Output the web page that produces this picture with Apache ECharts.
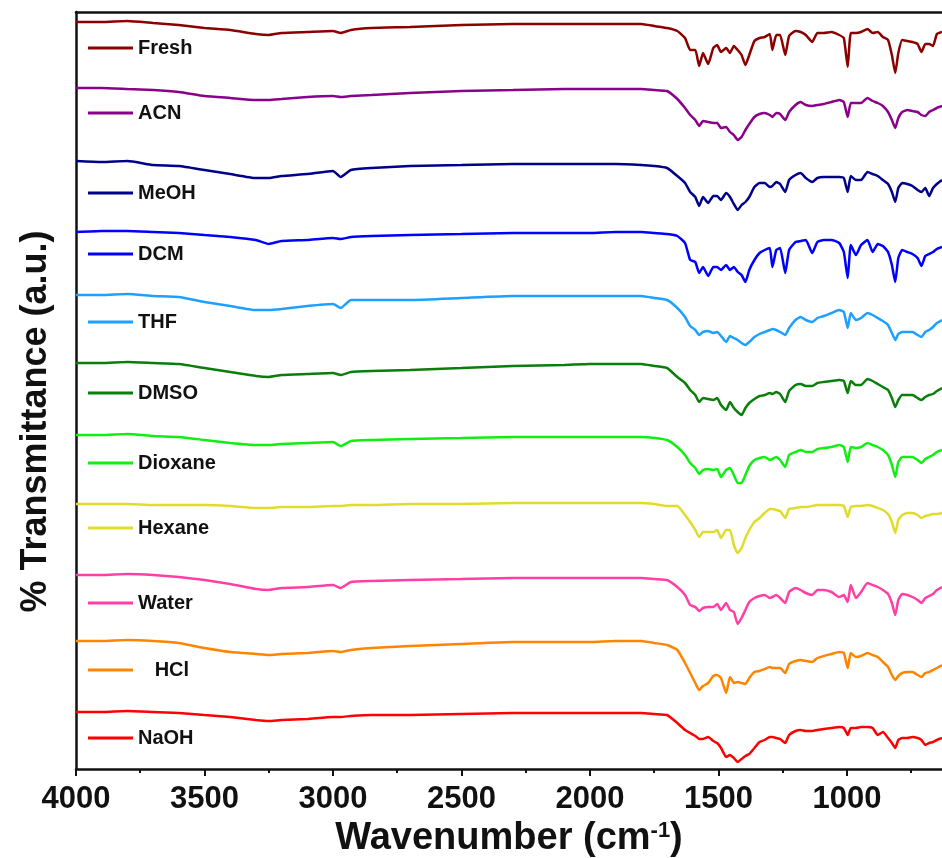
<!DOCTYPE html>
<html>
<head>
<meta charset="utf-8">
<script src="https://cdn.jsdelivr.net/npm/echarts@6/dist/echarts.min.js"></script>
<style>
html,body{margin:0;padding:0;background:#fff;}
#chart{width:942px;height:858px;}
</style>
</head>
<body>
<div id="chart"></div>
<script>
// Wavenumber grid (cm-1)
const wavenumbers = [4000,3900,3800,3700,3600,3500,3400,3300,3250,3200,3100,3000,2970,2930,2850,2700,2500,2300,2100,2000,1900,1800,1750,1700,
  1660,1630,1610,1590,1575,1560,1540,1520,1505,1490,1470,1455,1440,1425,1410,1395,1380,1360,1340,1320,1300,1290,1275,1260,1240,1225,
  1200,1180,1160,1135,1115,1090,1060,1030,1012,997,985,965,945,920,900,880,860,840,825,812,800,785,765,745,725,710,695,680,665,650,630];

// Stacked transmittance (a.u.)
const fresh = [74.7,74.7,74.8,74.6,74.4,74.1,73.9,73.5,73.4,73.6,73.7,73.8,73.6,73.9,74.1,74.2,74.4,74.5,74.5,74.5,74.5,74.5,74.3,74.1,
  73.8,73.1,71.9,71.9,70.3,71.6,70.5,72.1,72.4,71.7,72.1,71.6,72.3,71.9,71.4,70.4,71.4,72.8,73.1,73.2,
  73.5,71.9,73.4,73.4,71.4,73.3,73.8,73.7,73.4,72.7,73.6,73.6,73.7,73.4,73.1,70.2,73.6,73.6,73.7,74.0,
  73.6,73.7,73.2,72.9,71.4,69.6,71.6,72.9,72.8,72.7,72.5,71.7,72.5,72.5,72.3,73.5,73.7];
const acn = [68.1,68.1,68.0,67.9,67.7,67.3,67.1,66.9,66.9,67.0,67.2,67.3,67.2,67.3,67.4,67.6,67.8,67.9,68.0,68.0,68.0,68.0,67.9,67.8,
  67.0,66.1,65.4,64.9,64.3,64.8,64.7,64.6,64.6,64.1,64.2,63.7,63.4,62.9,63.2,63.9,64.5,65.2,65.5,65.6,
  65.4,65.2,65.6,65.5,64.9,65.7,66.4,66.7,66.4,66.3,66.4,66.5,66.7,66.9,66.7,65.2,66.6,66.6,66.6,67.1,
  66.8,66.6,66.3,65.7,64.9,64.1,65.1,65.7,65.9,65.8,65.7,65.4,65.3,65.7,65.9,66.1,66.3];
const meoh = [60.8,60.7,60.8,60.4,60.3,59.9,59.5,59.1,59.1,59.3,59.5,59.8,59.2,59.9,60.1,60.3,60.4,60.5,60.5,60.5,60.5,60.4,60.3,60.1,
  59.3,58.6,57.7,57.2,56.3,57.2,56.6,57.3,57.3,56.9,57.6,57.2,56.5,55.9,56.4,56.7,57.2,58.2,58.6,58.6,
  58.2,58.3,58.7,58.5,57.7,58.9,59.4,59.6,59.1,58.7,59.1,59.2,59.2,59.2,59.1,57.7,59.3,58.9,58.9,59.7,
  59.5,59.3,58.9,58.5,57.7,56.7,58.1,58.6,58.5,58.3,57.9,57.7,58.1,57.3,58.1,58.5,58.9];
const dcm = [53.7,53.8,53.8,53.7,53.6,53.4,53.2,52.9,52.5,52.8,52.9,53.1,53.0,53.2,53.3,53.4,53.5,53.6,53.6,53.6,53.7,53.7,53.6,53.5,
  53.3,52.6,50.9,50.7,49.6,50.2,49.3,50.2,50.2,49.9,50.4,49.9,50.2,49.7,49.4,48.7,49.9,50.9,51.6,51.9,
  52.1,50.2,51.9,52.1,49.6,51.9,52.7,52.8,52.9,51.6,52.7,52.9,52.9,52.6,51.7,49.1,52.4,51.4,52.4,52.9,
  51.7,52.5,52.3,51.7,50.4,48.7,51.1,51.9,51.7,51.5,51.1,50.3,51.3,51.5,51.7,52.0,52.2];
const thf = [47.4,47.4,47.5,47.3,47.2,46.7,46.3,45.9,45.9,46.0,46.3,46.5,46.1,46.9,46.9,46.9,47.1,47.3,47.3,47.3,47.3,47.3,47.1,46.9,
  46.1,45.2,44.3,43.9,43.4,43.7,43.8,43.6,43.7,43.3,42.7,43.3,43.1,42.9,42.6,42.4,42.7,43.2,43.5,43.7,
  43.9,44.0,43.9,43.7,43.4,44.1,44.9,45.2,44.9,44.7,45.1,45.3,45.6,45.9,45.7,44.1,45.6,44.9,45.1,45.6,
  45.4,45.1,44.8,44.4,43.6,42.9,43.5,43.7,43.7,43.7,43.4,43.2,43.7,43.9,44.2,44.6,44.9];
const dmso = [40.6,40.6,40.7,40.6,40.5,40.1,39.7,39.3,39.2,39.4,39.5,39.6,39.4,39.7,39.8,39.9,40.1,40.3,40.4,40.5,40.5,40.5,40.3,40.1,
  39.2,38.6,37.9,37.4,36.7,37.1,37.0,36.9,37.1,36.4,35.9,36.7,36.1,35.7,35.4,36.1,36.6,37.0,37.3,37.4,
  37.6,37.5,37.7,37.5,36.7,37.8,38.4,38.5,38.3,38.3,38.6,38.7,38.8,38.9,38.8,37.6,38.8,38.4,38.4,39.0,
  38.8,38.5,38.2,37.9,37.1,36.2,36.9,37.4,37.4,37.4,37.1,36.9,37.2,37.4,37.5,37.8,38.1];
const dioxane = [33.4,33.4,33.5,33.3,33.2,32.9,32.6,32.4,32.4,32.5,32.6,32.7,32.3,32.8,32.9,33.0,33.1,33.2,33.2,33.2,33.2,33.2,33.1,32.9,
  32.2,31.4,30.6,30.1,29.5,29.9,30.0,29.9,30.0,29.2,29.9,30.1,29.4,28.6,28.6,29.4,30.3,30.9,31.1,31.2,
  30.9,31.0,31.2,30.9,30.2,31.4,31.7,31.9,31.7,31.7,32.0,32.1,32.2,32.4,32.2,30.7,32.2,32.1,32.2,32.6,
  32.4,32.2,31.9,31.4,30.4,29.2,30.7,31.2,31.2,31.2,30.9,30.6,31.0,31.2,31.4,31.7,31.9];
const hexane = [26.5,26.5,26.5,26.4,26.4,26.4,26.3,26.1,26.1,26.2,26.2,26.3,26.3,26.4,26.4,26.5,26.5,26.6,26.6,26.6,26.6,26.6,26.5,26.3,
  26.3,25.4,24.7,23.9,23.2,23.7,23.7,23.7,23.9,23.1,23.9,23.9,22.4,21.6,22.1,23.1,23.9,24.7,25.1,25.6,
  26.0,26.0,25.9,25.8,25.1,26.0,26.1,26.2,26.2,26.3,26.4,26.4,26.4,26.4,26.3,25.2,26.2,26.3,26.3,26.4,
  26.3,26.1,25.9,25.5,24.7,23.6,24.9,25.4,25.6,25.6,25.4,25.1,25.3,25.4,25.5,25.5,25.6];
const water = [19.4,19.4,19.5,19.4,19.2,18.9,18.5,18.0,17.9,18.1,18.2,18.4,18.1,18.7,18.8,18.9,19.0,19.1,19.1,19.1,19.1,19.1,19.0,18.9,
  18.2,17.4,16.4,16.2,15.8,16.1,16.2,16.2,16.5,15.9,16.6,15.9,15.7,14.5,15.1,15.9,16.7,17.1,17.3,17.4,
  17.1,17.2,17.4,17.1,16.6,17.7,18.1,17.9,17.6,17.4,17.9,17.9,17.7,17.2,17.4,16.7,18.4,17.1,17.7,18.6,
  18.4,18.2,17.9,17.5,16.6,15.4,16.9,17.5,17.4,17.2,16.9,16.6,17.1,17.3,17.5,17.9,18.2];
const hcl = [12.8,12.8,12.9,12.8,12.6,12.1,11.7,11.5,11.4,11.5,11.6,11.8,11.7,11.9,12.1,12.3,12.5,12.7,12.7,12.7,12.8,12.8,12.6,12.4,
  11.9,10.6,9.6,8.6,7.9,8.3,8.6,9.3,9.4,9.1,7.6,9.2,8.6,8.7,8.6,8.5,9.1,9.7,9.8,10.0,
  10.2,10.1,10.1,10.1,9.6,10.5,10.8,10.9,10.8,10.7,11.1,11.3,11.5,11.7,11.6,10.1,11.6,11.2,11.3,11.6,
  11.4,11.2,10.7,10.2,9.4,8.9,9.3,9.6,9.7,9.7,9.4,9.2,9.6,9.7,9.9,10.1,10.4];
const naoh = [5.7,5.7,5.8,5.7,5.6,5.4,5.2,4.9,4.8,4.9,5.0,5.2,5.2,5.3,5.4,5.4,5.5,5.6,5.6,5.6,5.6,5.6,5.5,5.4,
  4.6,3.9,3.6,3.3,3.0,3.0,3.2,2.8,2.6,2.1,1.2,1.4,1.1,0.7,1.0,1.3,1.5,2.1,2.7,2.9,
  3.2,3.2,3.1,3.0,2.6,3.4,3.8,3.9,3.8,3.8,3.9,4.0,4.1,4.2,4.1,3.4,4.1,4.1,4.2,4.2,
  4.1,3.4,3.7,3.1,2.6,2.1,2.9,3.1,3.1,3.2,3.1,2.9,2.4,2.6,2.7,2.9,3.1];

const seriesNames = ['Fresh','ACN','MeOH','DCM','THF','DMSO','Dioxane','Hexane','Water','HCl','NaOH'];
const seriesValues = [fresh, acn, meoh, dcm, thf, dmso, dioxane, hexane, water, hcl, naoh];
const seriesColors = ['#8b0000','#8b008b','#00008b','#0000ff','#1ea0ff','#0a7d0a','#11ee11','#e0dc2c','#ff3fa4','#ff8400','#ff0000'];
const xTickLabels = [4000,3500,3000,2500,2000,1500,1000];
const xMinorTicks = [3750,3250,2750,2250,1750,1250,750];

// legend layout (vertical positions of each legend entry)
const legendTops = [48,113,193,254,322,393,463,528,603,670,738];

const FONT = "'Liberation Sans', Arial, sans-serif";
const chart = echarts.init(document.getElementById('chart'), null, {renderer: 'canvas'});

const xCommon = {type: 'value', inverse: true, min: 630, max: 4000, gridIndex: 0, splitLine: {show: false}};

const option = {
  backgroundColor: '#fff',
  animation: false,
  grid: {left: 76, right: 0, top: 12, bottom: 89, containLabel: false, outerBoundsMode: 'none'},
  xAxis: [
    Object.assign({}, xCommon, {
      position: 'bottom',
      name: 'Wavenumber (cm{sup|-1})',
      nameLocation: 'middle',
      nameGap: 50,
      nameTextStyle: {fontFamily: FONT, fontWeight: 'bold', fontSize: 38, color: '#111',
        rich: {sup: {fontFamily: FONT, fontWeight: 'bold', fontSize: 22, color: '#111', verticalAlign: 'top', padding: [0, 0, 16, 0]}}},
      axisLine: {show: true, onZero: false, lineStyle: {color: '#111', width: 2.5}},
      axisTick: {show: true, customValues: xTickLabels, length: 7, lineStyle: {color: '#111', width: 2}},
      axisLabel: {show: true, customValues: xTickLabels, margin: 15, formatter: (v) => String(v),
        fontFamily: FONT, fontWeight: 'bold', fontSize: 31, color: '#111'}
    }),
    Object.assign({}, xCommon, {
      position: 'bottom',
      axisLine: {show: false},
      axisTick: {show: true, customValues: xMinorTicks, length: 4, lineStyle: {color: '#111', width: 2}},
      axisLabel: {show: false}
    }),
    Object.assign({}, xCommon, {
      position: 'top',
      axisLine: {show: true, onZero: false, lineStyle: {color: '#111', width: 2.5}},
      axisTick: {show: false},
      axisLabel: {show: false}
    })
  ],
  yAxis: {
    type: 'value', min: 0, max: 75.7,
    name: '% Transmittance (a.u.)',
    nameLocation: 'middle',
    nameRotate: 90,
    nameGap: 22,
    nameTextStyle: {fontFamily: FONT, fontWeight: 'bold', fontSize: 36, color: '#111', padding: [0, 62, 0, 0]},
    axisLine: {show: true, onZero: false, lineStyle: {color: '#111', width: 2.5}},
    axisTick: {show: false},
    axisLabel: {show: false},
    splitLine: {show: false}
  },
  legend: seriesNames.map((n, i) => ({
    show: true,
    left: 88,
    top: legendTops[i] - 10,
    orient: 'vertical',
    padding: 0,
    icon: 'rect',
    itemWidth: 45,
    itemHeight: 3,
    itemGap: 0,
    data: [n],
    formatter: (name) => name === 'HCl' ? '   HCl' : name,
    textStyle: {fontFamily: FONT, fontWeight: 'bold', fontSize: 20, color: '#111'}
  })),
  series: seriesNames.map((n, i) => ({
    name: n,
    type: 'line',
    xAxisIndex: 0,
    showSymbol: false,
    symbol: 'none',
    smooth: 0.15,
    color: seriesColors[i],
    lineStyle: {color: seriesColors[i], width: 2.5},
    data: wavenumbers.map((w, k) => [w, seriesValues[i][k]])
  }))
};
chart.setOption(option);
</script>
</body>
</html>
